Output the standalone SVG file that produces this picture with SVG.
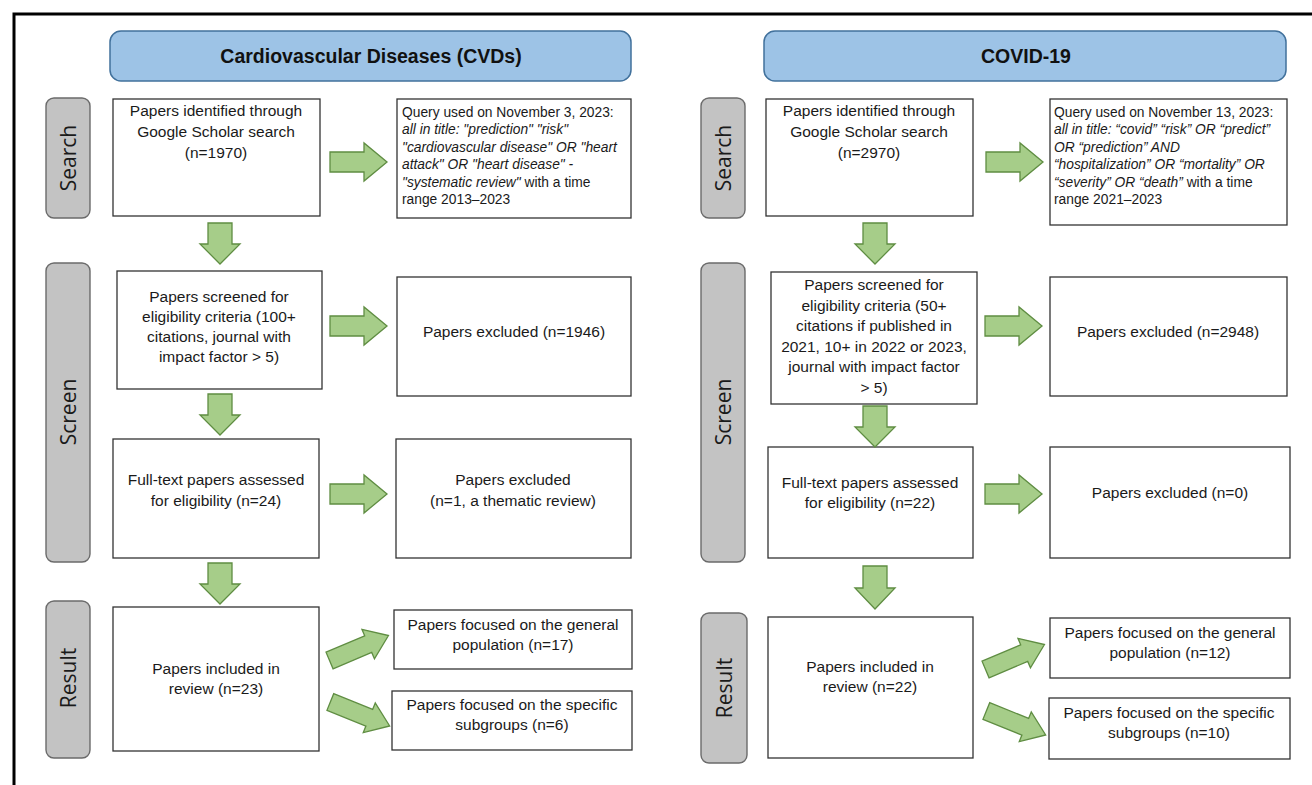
<svg xmlns="http://www.w3.org/2000/svg" xmlns:xlink="http://www.w3.org/1999/xlink" width="1312" height="785" viewBox="0 0 1312 785">
<style>
.bg{fill:#ffffff}
.frame{fill:none;stroke:#000;stroke-width:3}
.title{fill:#9dc3e6;stroke:#41719c;stroke-width:1.5}
.tt{font-family:"Liberation Sans",Arial,sans-serif;font-weight:bold;font-size:19.5px;fill:#111;text-anchor:middle}
.side{fill:#c3c3c3;stroke:#6b6b6b;stroke-width:1.4}
.st{font-family:"Open Sans","Liberation Sans",sans-serif;font-size:21px;fill:#1a1a1a;text-anchor:middle}
.box{fill:#fff;stroke:#333;stroke-width:1.3}
.t{font-family:"Liberation Sans",Arial,sans-serif;font-size:15.5px;fill:#1a1a1a;text-anchor:middle}
.q{font-family:"Liberation Sans",Arial,sans-serif;font-size:13.8px;fill:#1a1a1a}
.i{font-style:italic}
.arr{fill:#a6cd89;stroke:#5f8d42;stroke-width:1.3;stroke-linejoin:miter}
</style>
<defs>
<path id="ar" class="arr" d="M0,-10 H34 V-19 L57,0 L34,19 V10 H0 Z"/>
<path id="ad" class="arr" d="M-12,0 H12 V21 H20 L0,41 L-20,21 H-12 Z"/>
<path id="ag" class="arr" d="M-32,-9 H10 V-16 L32,0 L10,16 V9 H-32 Z"/>
</defs>
<rect class="bg" x="0" y="0" width="1312" height="785"/>
<path class="frame" d="M14,785 V14 H1312"/>

<!-- Left column -->
<g id="title-cvd"><rect class="title" x="110" y="31" width="521" height="50" rx="11"/><text class="tt" x="371" y="63">Cardiovascular Diseases (CVDs)</text></g>
<g id="side-search-l"><rect class="side" x="46" y="98" width="44" height="120" rx="8"/><text class="st" transform="translate(76,158) rotate(-90)">Search</text></g>
<g id="side-screen-l"><rect class="side" x="46" y="263" width="44" height="299" rx="8"/><text class="st" transform="translate(76,412) rotate(-90)">Screen</text></g>
<g id="side-result-l"><rect class="side" x="46" y="601" width="44" height="157" rx="8"/><text class="st" transform="translate(76,678) rotate(-90)">Result</text></g>

<g id="l-identified"><rect class="box" x="113" y="99" width="207" height="117"/>
<text class="t" x="216" y="116">Papers identified through</text><text class="t" x="216" y="137">Google Scholar search</text><text class="t" x="216" y="158">(n=1970)</text></g>
<g id="l-query"><rect class="box" x="397" y="99" width="234" height="119"/>
<text class="q" x="402" y="117">Query used on November 3, 2023:</text>
<text class="q i" x="402" y="134">all in title: "prediction" "risk"</text>
<text class="q i" x="402" y="152">"cardiovascular disease" OR "heart</text>
<text class="q i" x="402" y="169">attack" OR "heart disease" -</text>
<text class="q" x="402" y="187"><tspan class="i">"systematic review"</tspan> with a time</text>
<text class="q" x="402" y="204">range 2013–2023</text></g>
<g id="l-screened"><rect class="box" x="117" y="271" width="205" height="118"/>
<text class="t" x="219" y="302">Papers screened for</text><text class="t" x="219" y="322">eligibility criteria (100+</text><text class="t" x="219" y="342">citations, journal with</text><text class="t" x="219" y="362">impact factor &gt; 5)</text></g>
<g id="l-excluded1"><rect class="box" x="397" y="277" width="234" height="119"/><text class="t" x="514" y="337">Papers excluded (n=1946)</text></g>
<g id="l-fulltext"><rect class="box" x="113" y="439" width="206" height="119"/>
<text class="t" x="216" y="485">Full-text papers assessed</text><text class="t" x="216" y="506">for eligibility (n=24)</text></g>
<g id="l-excluded2"><rect class="box" x="396" y="439" width="235" height="119"/>
<text class="t" x="513" y="485">Papers excluded</text><text class="t" x="513" y="506">(n=1, a thematic review)</text></g>
<g id="l-included"><rect class="box" x="113" y="607" width="206" height="144"/>
<text class="t" x="216" y="674">Papers included in</text><text class="t" x="216" y="694">review (n=23)</text></g>
<g id="l-general"><rect class="box" x="394" y="610" width="238" height="59"/>
<text class="t" x="513" y="630">Papers focused on the general</text><text class="t" x="513" y="650">population (n=17)</text></g>
<g id="l-specific"><rect class="box" x="392" y="691" width="240" height="59"/>
<text class="t" x="512" y="710">Papers focused on the specific</text><text class="t" x="512" y="730">subgroups (n=6)</text></g>

<!-- Right column -->
<g id="title-covid"><rect class="title" x="764" y="31" width="522" height="50" rx="11"/><text class="tt" x="1026" y="63">COVID-19</text></g>
<g id="side-search-r"><rect class="side" x="701" y="98" width="44" height="120" rx="8"/><text class="st" transform="translate(731,158) rotate(-90)">Search</text></g>
<g id="side-screen-r"><rect class="side" x="701" y="263" width="44" height="299" rx="8"/><text class="st" transform="translate(731,412) rotate(-90)">Screen</text></g>
<g id="side-result-r"><rect class="side" x="701" y="613" width="46" height="150" rx="8"/><text class="st" transform="translate(732,688) rotate(-90)">Result</text></g>

<g id="r-identified"><rect class="box" x="766" y="99" width="207" height="117"/>
<text class="t" x="869" y="116">Papers identified through</text><text class="t" x="869" y="137">Google Scholar search</text><text class="t" x="869" y="158">(n=2970)</text></g>
<g id="r-query"><rect class="box" x="1050" y="99" width="237" height="126"/>
<text class="q" x="1054" y="117">Query used on November 13, 2023:</text>
<text class="q i" x="1054" y="134">all in title: “covid” “risk” OR “predict”</text>
<text class="q i" x="1054" y="152">OR “prediction” AND</text>
<text class="q i" x="1054" y="169">“hospitalization” OR “mortality” OR</text>
<text class="q" x="1054" y="187"><tspan class="i">“severity” OR “death”</tspan> with a time</text>
<text class="q" x="1054" y="204">range 2021–2023</text></g>
<g id="r-screened"><rect class="box" x="771" y="272" width="206" height="132"/>
<text class="t" x="874" y="290">Papers screened for</text><text class="t" x="874" y="311">eligibility criteria (50+</text><text class="t" x="874" y="331">citations if published in</text><text class="t" x="874" y="352">2021, 10+ in 2022 or 2023,</text><text class="t" x="874" y="372">journal with impact factor</text><text class="t" x="874" y="393">&gt; 5)</text></g>
<g id="r-excluded1"><rect class="box" x="1050" y="277" width="237" height="119"/><text class="t" x="1168" y="337">Papers excluded (n=2948)</text></g>
<g id="r-fulltext"><rect class="box" x="768" y="447" width="205" height="111"/>
<text class="t" x="870" y="488">Full-text papers assessed</text><text class="t" x="870" y="508">for eligibility (n=22)</text></g>
<g id="r-excluded2"><rect class="box" x="1050" y="447" width="240" height="111"/><text class="t" x="1170" y="498">Papers excluded (n=0)</text></g>
<g id="r-included"><rect class="box" x="768" y="617" width="205" height="141"/>
<text class="t" x="870" y="672">Papers included in</text><text class="t" x="870" y="692">review (n=22)</text></g>
<g id="r-general"><rect class="box" x="1050" y="618" width="240" height="60"/>
<text class="t" x="1170" y="638">Papers focused on the general</text><text class="t" x="1170" y="658">population (n=12)</text></g>
<g id="r-specific"><rect class="box" x="1049" y="698" width="241" height="61"/>
<text class="t" x="1169" y="718">Papers focused on the specific</text><text class="t" x="1169" y="738">subgroups (n=10)</text></g>

<g id="connectors">
<use href="#ar" transform="translate(330,162)"/>
<use href="#ar" transform="translate(330,326)"/>
<use href="#ar" transform="translate(330,494)"/>
<use href="#ad" transform="translate(220,223)"/>
<use href="#ad" transform="translate(220,394)"/>
<use href="#ad" transform="translate(220,563)"/>
<use href="#ag" transform="translate(359,648) rotate(-23)"/>
<use href="#ag" transform="translate(360,714) rotate(22)"/>
<use href="#ar" transform="translate(986,162)"/>
<use href="#ar" transform="translate(985,326)"/>
<use href="#ar" transform="translate(985,494)"/>
<use href="#ad" transform="translate(875,223)"/>
<use href="#ad" transform="translate(875,406)"/>
<use href="#ad" transform="translate(875,566) scale(1,1.05)"/>
<use href="#ag" transform="translate(1015,657) rotate(-23)"/>
<use href="#ag" transform="translate(1016,723) rotate(22)"/>
</g>
</svg>
